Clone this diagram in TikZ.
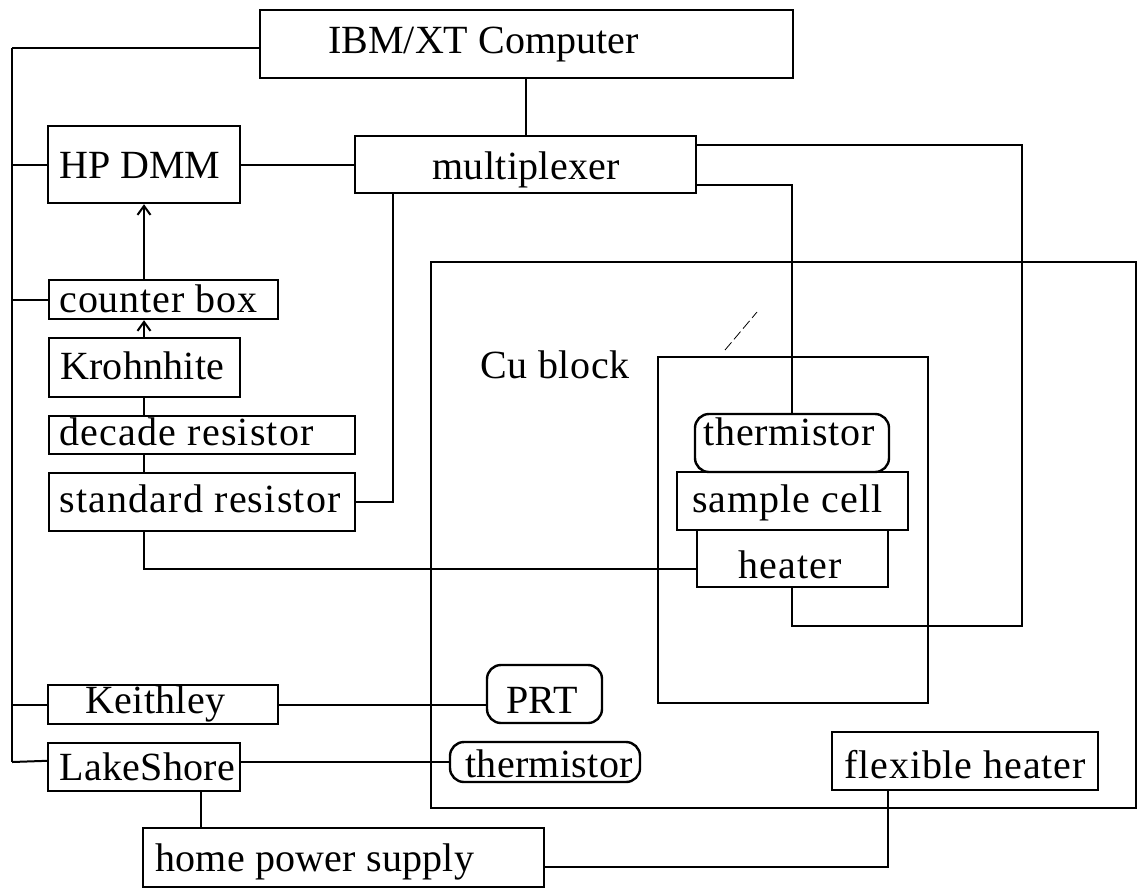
\documentclass[tikz,border=0pt]{standalone}
\usepackage{fontspec}
\setmainfont{Liberation Serif}
\usetikzlibrary{fit,calc,arrows.meta}
\tikzset{
  box/.style={draw, line width=1.2pt, inner sep=0pt, fit={#1}},
  rbox/.style={draw, line width=1.2pt, inner sep=0pt, rounded corners=7pt, fit={#1}},
  lbl/.style={inner sep=0pt, anchor=base west,
    font=\fontsize{20}{24}\selectfont\addfontfeature{LetterSpace=#1}},
  lbl/.default=0,
  wire/.style={draw, line width=1pt},
  arrowwire/.style={draw, line width=1pt, -{Straight Barb[length=4.5pt,width=6.5pt]}},
}
\begin{document}
\begin{tikzpicture}[x=0.5pt,y=-0.5pt]
\useasboundingbox (0,0) rectangle (1138,895);

% enclosures
\node[box={(431,262) (1136,808)}] (cu) {};
\node[box={(658,357) (928,703)}] (inner) {};
\node[lbl=1.5] (tcu) at (480,378) {Cu block};

% boxes
\node[box={(260,10) (793,78)}] (ibm) {};
\node[box={(48,126) (240,203)}] (dmm) {};
\node[box={(355,136) (696,193)}] (mux) {};
\node[box={(49,280) (278,319)}] (counter) {};
\node[box={(49,338) (240,397)}] (kroh) {};
\node[box={(49,416) (355,454)}] (dec) {};
\node[box={(49,473) (355,531)}] (std) {};
\node[box={(48,685) (278,724)}] (keith) {};
\node[box={(48,743) (240,791)}] (lake) {};
\node[box={(143,828) (544,887)}] (hps) {};
\node[rbox={(695,414) (889,472)}] (thermU) {};
\node[box={(677,472) (908,530)}] (sample) {};
\node[box={(697,530) (888,587)}] (heater) {};
\node[rbox={(487,665) (602,723)}] (prt) {};
\node[rbox={(450,742) (640,782)}] (thermL) {};
\node[box={(832,732) (1098,790)}] (flex) {};

% labels
\node[lbl] (tibm) at (328,53) {IBM/XT Computer};
\node[lbl] (tdmm) at (59,178) {HP DMM};
\node[lbl=0.8] (tmux) at (432,179) {multiplexer};
\node[lbl=2.3] (tcounter) at (59,312) {counter box};
\node[lbl=0.5] (tkroh) at (60,379) {Krohnhite};
\node[lbl=3] (tdec) at (59,445) {decade resistor};
\node[lbl=3] (tstd) at (59,512) {standard resistor};
\node[lbl=0.8] (tkeith) at (85,713) {Keithley};
\node[lbl=0.7] (tlake) at (59,780) {LakeShore};
\node[lbl=0.6] (thps) at (155,871) {home power supply};
\node[lbl=2] (tthermU) at (703,445) {thermistor};
\node[lbl=2.5] (tsample) at (692,512) {sample cell};
\node[lbl=2.8] (theater) at (738,578) {heater};
\node[lbl=0.5] (tprt) at (506,713) {PRT};
\node[lbl=0.8] (tthermL) at (465,777) {thermistor};
\node[lbl=2.2] (tflex) at (844,778) {flexible heater};

% helper coordinates
\coordinate (busTop) at (12,48);
\coordinate (busBot) at (12,762);
\coordinate (col) at (144,0);
\coordinate (mb) at (393,0);
\coordinate (rx) at (1022,626);
\coordinate (hx) at (792,0);
\coordinate (lx) at (201,0);
\coordinate (fx) at (888,0);

% bus on the left
\path[wire] (busTop) -- (ibm.west |- busTop);
\path[wire] (busTop) -- (busBot);
\path[wire] (dmm.west) -- (dmm.west -| busTop);
\path[wire] (counter.west) -- (counter.west -| busTop);
\path[wire] ($(kroh.north west)+(0,20)$) -- ($(kroh.north west)+(0,20)$ -| busTop);
\path[wire] (keith.west) -- (keith.west -| busTop);
\path[wire] ($(lake.north west)+(0,19)$) -- (busBot);

% computer and multiplexer
\path[wire] (ibm.south -| mux.north) -- (mux.north);
\path[wire] (dmm.east) -- (mux.west);
\path[wire] (mux.south -| mb) |- (std.east);
\path[wire] ($(mux.north east)+(0,10)$) -| (rx) -| (heater.south -| hx);
\path[wire] ($(mux.south east)+(0,-9)$) -| (thermU.north);

% left column chain
\path[arrowwire] (counter.north -| col) -- (dmm.south -| col);
\path[arrowwire] (kroh.north -| col) -- (counter.south -| col);
\path[wire] (kroh.south -| col) -- (dec.north -| col);
\path[wire] (dec.south -| col) -- (std.north -| col);
\path[wire] (std.south -| col) |- ($(heater.south west)+(0,-19)$);

% lower instruments
\path[wire] (keith.east) -- (keith.east -| prt.west);
\path[wire] (lake.east |- thermL.west) -- (thermL.west);
\path[wire] (lake.south -| lx) -- (hps.north -| lx);
\path[wire] (flex.south -| fx) |- ($(hps.south east)+(0,-21)$);

% faint scratch mark
\draw[line width=0.4pt, dash pattern=on 5pt off 2pt] (725,350) -- (757,312);
\end{tikzpicture}
\end{document}
